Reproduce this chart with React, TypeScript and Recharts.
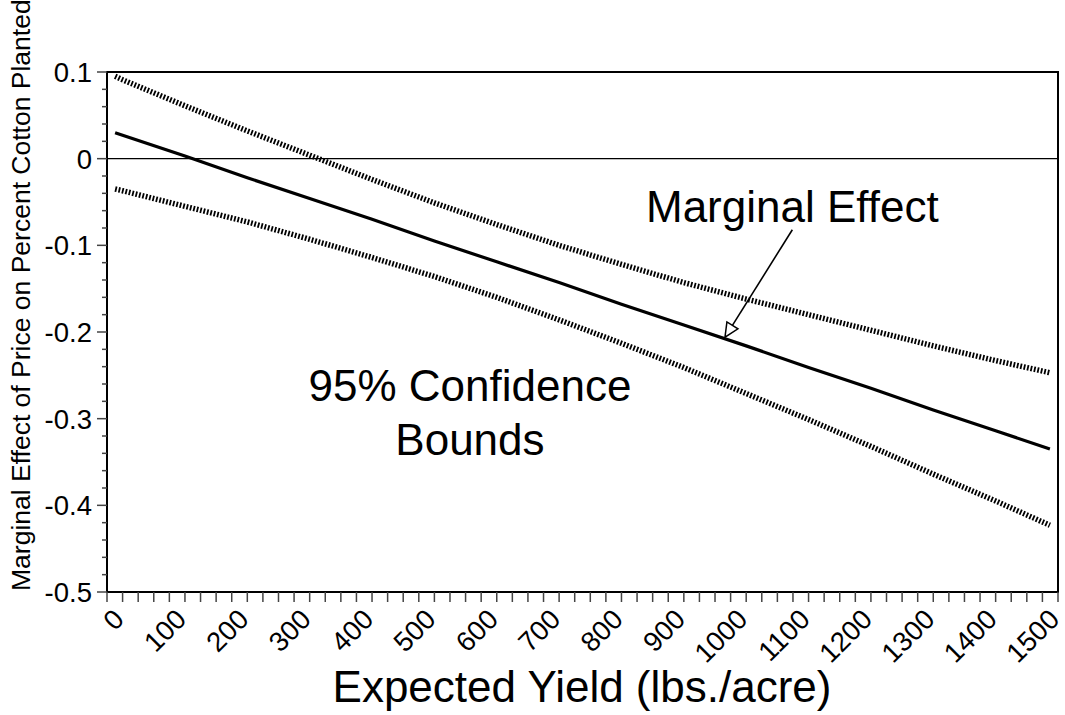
import React from "react";
import {
  LineChart,
  Line,
  XAxis,
  YAxis,
  ReferenceLine,
  ReferenceArea,
  ReferenceDot,
  Customized,
} from "recharts";

// expected yield (lbs./acre) and the curves
const yieldLbs = [-12, 0, 100, 200, 300, 400, 500, 600, 700, 800, 900, 1000, 1100, 1200, 1300, 1400, 1487];
const marginalEffect = [0.03, 0.027, 0.003, -0.022, -0.046, -0.07, -0.095, -0.119, -0.143, -0.168, -0.192, -0.216, -0.241, -0.265, -0.29, -0.314, -0.335];
const upperBound = [0.095, 0.091, 0.061, 0.032, 0.004, -0.024, -0.051, -0.076, -0.1, -0.122, -0.143, -0.162, -0.18, -0.198, -0.216, -0.233, -0.247];
const lowerBound = [-0.035, -0.037, -0.055, -0.073, -0.093, -0.114, -0.136, -0.16, -0.186, -0.213, -0.241, -0.271, -0.301, -0.332, -0.364, -0.395, -0.423];

const xTicks: number[] = [];
for (let v = -25; v <= 1500; v += 25) xTicks.push(v);
const yTicks: number[] = [];
for (let i = -25; i <= 5; i++) yTicks.push(i / 50);

const FONT = "Liberation Sans, Arial, Helvetica, sans-serif";

const data = yieldLbs.map((x, i) => ({
  x,
  me: marginalEffect[i],
  hi: upperBound[i],
  lo: lowerBound[i],
}));

const XTick = (props: any) => {
  const { x, y, payload } = props;
  const v = payload.value;
  const showLabel = v >= 0 && v % 100 === 0;
  return (
    <g>
      <line x1={x} y1={y} x2={x} y2={y + 10} stroke="#444" strokeWidth={1.5} />
      {showLabel && (
        <text
          x={x + 3}
          y={y + 29}
          textAnchor="end"
          fontSize={27.5}
          fontFamily={FONT}
          fill="#000"
          transform={`rotate(-45, ${x + 3}, ${y + 29})`}
        >
          {v}
        </text>
      )}
    </g>
  );
};

const YTick = (props: any) => {
  const { x, y, payload } = props;
  const v = payload.value;
  const major = Math.abs(v * 10 - Math.round(v * 10)) < 1e-6;
  const label = Math.abs(v) < 1e-9 ? "0" : String(Math.round(v * 10) / 10);
  return (
    <g>
      <line x1={x - (major ? 10 : 5)} y1={y} x2={x} y2={y} stroke="#444" strokeWidth={1.5} />
      {major && (
        <text x={x - 15} y={y} dy="0.36em" textAnchor="end" fontSize={27.5} fontFamily={FONT} fill="#000">
          {label}
        </text>
      )}
    </g>
  );
};

const Arrow = (props: any) => {
  const { x1, y1, x2, y2 } = props;
  const dx = x2 - x1;
  const dy = y2 - y1;
  const len = Math.sqrt(dx * dx + dy * dy);
  const ux = dx / len;
  const uy = dy / len;
  const bx = x2 - ux * 14;
  const by = y2 - uy * 14;
  const nx = -uy * 6.5;
  const ny = ux * 6.5;
  return (
    <g>
      <line x1={x1} y1={y1} x2={bx} y2={by} stroke="#000" strokeWidth={1.6} />
      <polygon
        points={`${x2},${y2} ${bx + nx},${by + ny} ${bx - nx},${by - ny}`}
        fill="#fff"
        stroke="#000"
        strokeWidth={1.5}
      />
    </g>
  );
};

const noteText = (text: string) => (props: any) => (
  <text x={props.cx} y={props.cy} textAnchor="middle" fontSize={44} fontFamily={FONT} fill="#000">
    {text}
  </text>
);

const Titles = () => (
  <g>
    <text
      x={30}
      y={591}
      textAnchor="start"
      fontSize={26.5}
      fontFamily={FONT}
      fill="#000"
      transform="rotate(-90, 30, 591)"
    >
      Marginal Effect of Price on Percent Cotton Planted
    </text>
    <text x={582} y={702} textAnchor="middle" fontSize={44} fontFamily={FONT} fill="#000">
      Expected Yield (lbs./acre)
    </text>
  </g>
);

export default function App() {
  return (
    <div style={{ position: "absolute", left: 0, top: 0, background: "#fff" }}>
      <LineChart
        width={1065}
        height={715}
        data={data}
        margin={{ top: 72, right: 7, left: 0, bottom: 0 }}
      >
        <XAxis
          dataKey="x"
          type="number"
          domain={[-25, 1500]}
          ticks={xTicks}
          interval={0}
          allowDataOverflow
          height={123}
          tickSize={0}
          tickMargin={0}
          tickLine={false}
          tick={<XTick />}
          axisLine={{ stroke: "#000", strokeWidth: 2 }}
        />
        <YAxis
          type="number"
          domain={[-0.5, 0.1]}
          ticks={yTicks}
          interval={0}
          allowDataOverflow
          width={107}
          tickSize={0}
          tickMargin={0}
          tickLine={false}
          tick={<YTick />}
          axisLine={{ stroke: "#000", strokeWidth: 2 }}
        />
        <ReferenceArea x1={-25} x2={1500} y1={-0.5} y2={0.1} fill="none" stroke="#000" strokeWidth={2} />
        <ReferenceLine y={0} stroke="#000" strokeWidth={1.4} />
        <Line
          dataKey="hi"
          type="linear"
          stroke="#000"
          strokeWidth={5.5}
          strokeDasharray="1.8 1.7"
          dot={false}
          activeDot={false}
          isAnimationActive={false}
        />
        <Line
          dataKey="lo"
          type="linear"
          stroke="#000"
          strokeWidth={5.5}
          strokeDasharray="1.8 1.7"
          dot={false}
          activeDot={false}
          isAnimationActive={false}
        />
        <Line
          dataKey="me"
          type="linear"
          stroke="#000"
          strokeWidth={3.2}
          dot={false}
          activeDot={false}
          isAnimationActive={false}
        />
        <ReferenceLine
          segment={[
            { x: 1074, y: -0.082 },
            { x: 966, y: -0.206 },
          ]}
          shape={<Arrow />}
        />
        <ReferenceDot x={1074} y={-0.073} r={0} shape={noteText("Marginal Effect")} />
        <ReferenceDot x={557} y={-0.28} r={0} shape={noteText("95% Confidence")} />
        <ReferenceDot x={557} y={-0.342} r={0} shape={noteText("Bounds")} />
        <Customized component={<Titles />} />
      </LineChart>
    </div>
  );
}
